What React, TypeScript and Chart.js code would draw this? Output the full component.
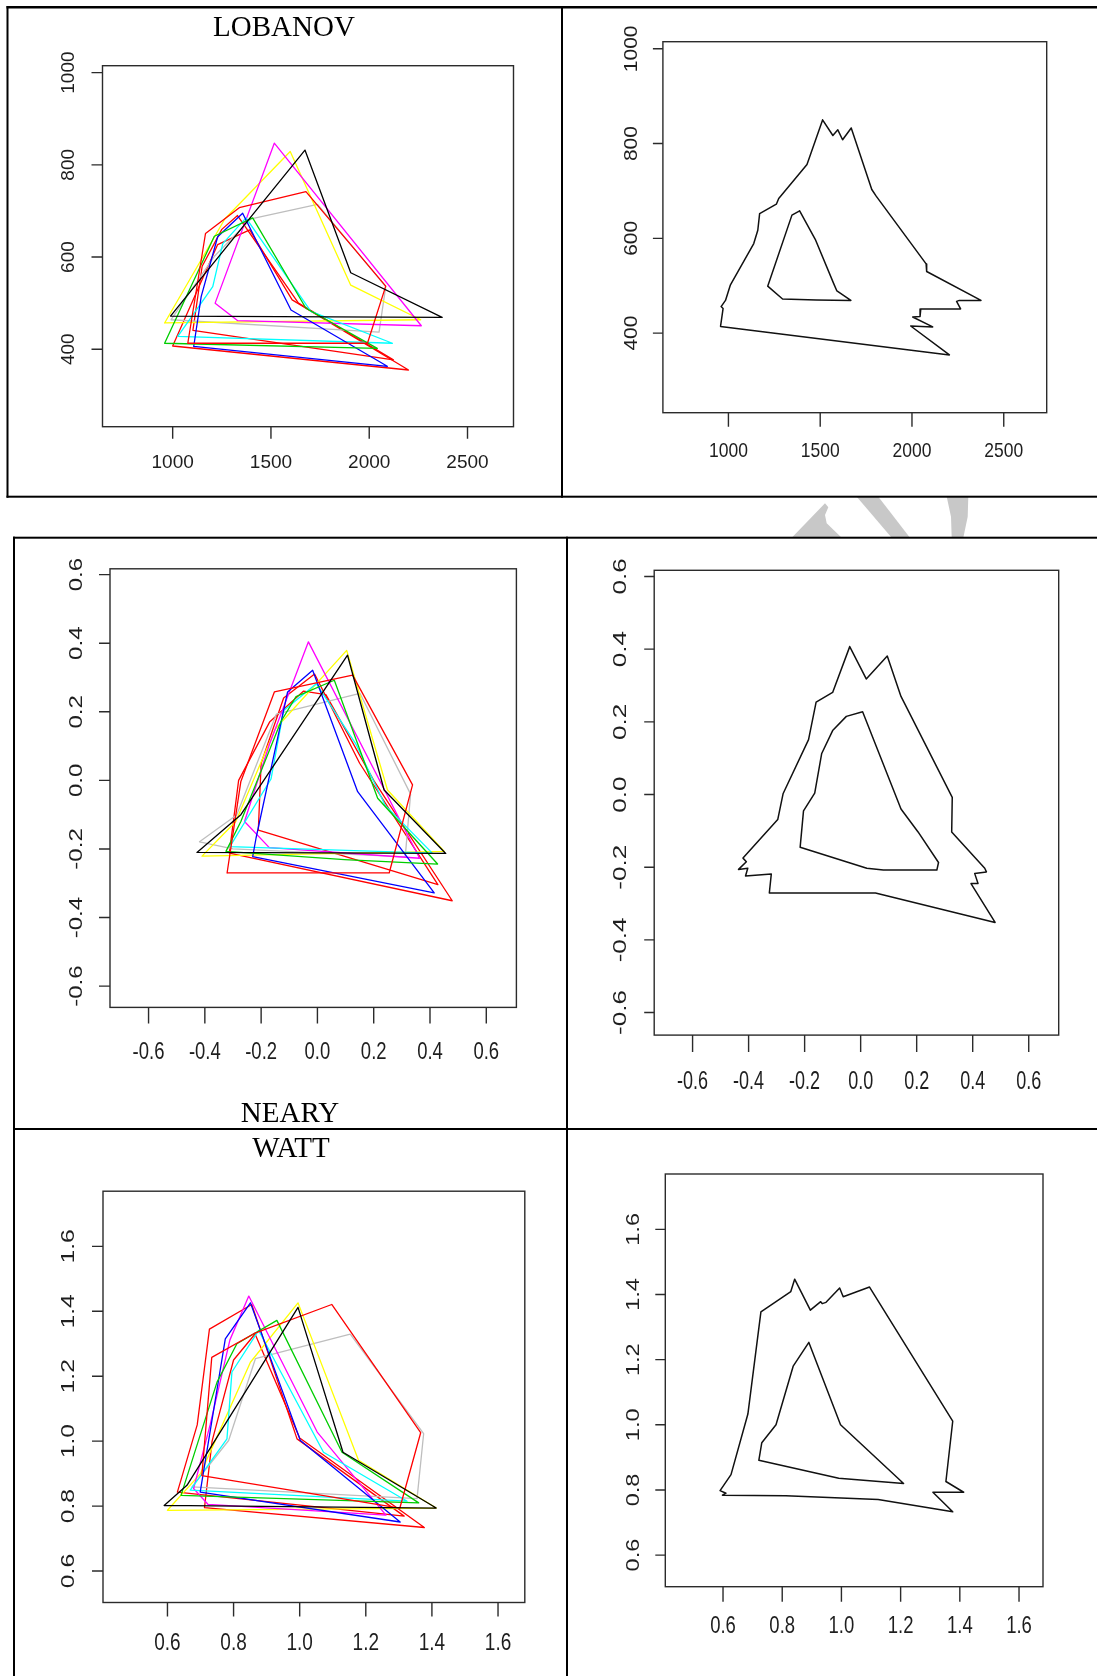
import React, { useEffect, useRef } from 'react';
import { Chart, registerables } from 'chart.js';
Chart.register(...registerables);

// ---------------- tick values / labels ----------------
const lobXTicks = [1000, 1500, 2000, 2500];
const lobXLabels = ['1000', '1500', '2000', '2500'];
const lobYTicks = [400, 600, 800, 1000];
const lobYLabels = ['400', '600', '800', '1000'];
const nearyTicks = [-0.6, -0.4, -0.2, 0, 0.2, 0.4, 0.6];
const nearyLabels = ['-0.6', '-0.4', '-0.2', '0.0', '0.2', '0.4', '0.6'];
const wattTicks = [0.6, 0.8, 1.0, 1.2, 1.4, 1.6];
const wattLabels = ['0.6', '0.8', '1.0', '1.2', '1.4', '1.6'];

// ---------------- LOBANOV speakers (x, y) ----------------
const lobBlack = [[989, 472], [1673, 832], [1906, 566], [2371, 469], [989, 472]];
const lobRed1 = [[1077, 413], [1167, 651], [1339, 707], [1678, 742], [2084, 537], [1991, 413], [1077, 413]];
const lobGreen = [[959, 413], [1212, 645], [1407, 685], [1678, 489], [2041, 402], [959, 413]];
const lobBlue = [[1107, 406], [1145, 514], [1229, 644], [1356, 695], [1602, 485], [2092, 363], [1107, 406]];
const lobCyan = [[1026, 428], [1204, 536], [1255, 629], [1373, 685], [1703, 482], [2118, 413], [1026, 428]];
const lobMagenta = [[1216, 500], [1517, 847], [2265, 451], [1331, 462], [1216, 500]];
const lobYellow = [[959, 457], [1266, 683], [1598, 829], [1906, 539], [2262, 464], [959, 457]];
const lobGray = [[992, 464], [1211, 601], [1399, 683], [1737, 714], [2084, 536], [2050, 437], [992, 464]];
const lobRed2 = [[1000, 407], [1229, 627], [1392, 659], [1608, 507], [2200, 355], [1000, 407]];
const lobRed3 = [[1103, 441], [1150, 580], [1250, 660], [1330, 690], [1640, 500], [2123, 377], [1103, 441]];

// LOBANOV hull (outer / inner)
const lobHullOuter = [[1513, 850], [1569, 817], [1596, 829], [1622, 808], [1669, 833], [1781, 703], [1805, 689], [2077, 546], [2080, 530], [2376, 469], [2258, 469], [2243, 467], [2265, 451], [2048, 451], [2044, 435], [2004, 434], [2113, 413], [1993, 415], [2204, 354], [957, 414], [971, 452], [960, 456], [984, 469], [1011, 502], [1138, 589], [1160, 617], [1170, 652], [1261, 672], [1274, 684], [1428, 756], [1513, 850]];
const lobHullInner = [[1388, 658], [1346, 649], [1214, 499], [1295, 472], [1479, 470], [1667, 469], [1591, 489], [1573, 505], [1473, 598], [1388, 658]];

// ---------------- NEARY speakers ----------------
const nearyBlack = [[-0.428, -0.21], [-0.272, -0.1], [0.107, 0.365], [0.237, -0.028], [0.456, -0.213], [-0.428, -0.21]];
const nearyRed1 = [[-0.321, -0.27], [-0.272, -0.003], [-0.153, 0.258], [0.125, 0.307], [0.338, -0.013], [0.255, -0.27], [-0.321, -0.27]];
const nearyGreen = [[-0.325, -0.207], [-0.272, -0.12], [-0.13, 0.171], [-0.076, 0.244], [0.06, 0.292], [0.214, -0.052], [0.427, -0.244], [0.096, -0.231], [-0.325, -0.207]];
const nearyBlue = [[-0.23, -0.222], [-0.218, -0.168], [-0.106, 0.258], [-0.017, 0.321], [0.143, -0.033], [0.415, -0.328], [-0.23, -0.222]];
const nearyCyan = [[-0.311, -0.193], [-0.165, 0.004], [-0.12, 0.204], [-0.004, 0.282], [0.138, 0.104], [0.241, -0.073], [0.408, -0.212], [-0.311, -0.193]];
const nearyMagenta = [[-0.171, -0.196], [-0.259, -0.12], [-0.171, 0.104], [-0.032, 0.404], [0.363, -0.227], [-0.171, -0.196]];
const nearyYellow = [[-0.41, -0.221], [-0.29, -0.12], [-0.15, 0.15], [0.104, 0.379], [0.249, -0.028], [0.451, -0.207], [-0.41, -0.221]];
const nearyGray = [[-0.419, -0.179], [-0.287, -0.101], [-0.146, 0.193], [0.151, 0.254], [0.331, -0.04], [0.312, -0.223], [-0.3, -0.2], [-0.419, -0.179]];
const nearyRed2 = [[-0.21, -0.145], [-0.2, 0.05], [-0.12, 0.24], [-0.01, 0.31], [0.15, 0.05], [0.428, -0.304], [-0.21, -0.145]];
const nearyRed3 = [[-0.313, -0.212], [-0.28, 0.0], [-0.17, 0.17], [-0.05, 0.26], [0.03, 0.25], [0.2, 0.0], [0.479, -0.351], [-0.313, -0.212]];

const nearyHullOuter = [[-0.039, 0.407], [0.02, 0.318], [0.095, 0.381], [0.144, 0.27], [0.327, -0.008], [0.325, -0.103], [0.443, -0.203], [0.449, -0.213], [0.407, -0.217], [0.419, -0.245], [0.394, -0.245], [0.48, -0.352], [0.053, -0.271], [-0.326, -0.271], [-0.319, -0.219], [-0.411, -0.224], [-0.403, -0.203], [-0.436, -0.206], [-0.408, -0.185], [-0.42, -0.175], [-0.296, -0.069], [-0.277, 0.002], [-0.186, 0.151], [-0.159, 0.254], [-0.1, 0.281], [-0.039, 0.407]];
const nearyHullInner = [[0.007, 0.228], [-0.051, 0.215], [-0.1, 0.176], [-0.139, 0.113], [-0.164, 0.004], [-0.204, -0.045], [-0.216, -0.145], [0.022, -0.203], [0.081, -0.208], [0.272, -0.208], [0.278, -0.187], [0.205, -0.103], [0.144, -0.04], [0.007, 0.228]];

// ---------------- WATT speakers ----------------
const wattBlack = [[0.59, 0.802], [0.659, 0.864], [0.995, 1.412], [1.131, 0.966], [1.413, 0.794], [0.59, 0.802]];
const wattRed1 = [[0.704, 0.894], [0.734, 1.258], [0.861, 1.331], [1.097, 1.421], [1.366, 1.026], [1.303, 0.794], [0.704, 0.894]];
const wattGreen = [[0.641, 0.833], [0.75, 1.182], [0.81, 1.3], [0.931, 1.372], [1.128, 0.966], [1.36, 0.81], [0.641, 0.833]];
const wattBlue = [[0.699, 0.843], [0.775, 1.315], [0.851, 1.426], [1.002, 1.002], [1.304, 0.751], [0.699, 0.843]];
const wattCyan = [[0.669, 0.849], [0.78, 1.007], [0.795, 1.213], [0.876, 1.341], [1.072, 0.966], [1.325, 0.815], [0.669, 0.849]];
const wattMagenta = [[0.723, 0.805], [0.679, 0.854], [0.729, 1.05], [0.789, 1.312], [0.846, 1.447], [1.053, 1.028], [1.261, 0.772], [0.723, 0.805]];
const wattYellow = [[0.6, 0.787], [0.7, 0.9], [0.851, 1.243], [0.995, 1.426], [1.178, 0.941], [1.413, 0.794], [0.6, 0.787]];
const wattGray = [[0.674, 0.859], [0.785, 1.002], [0.866, 1.254], [1.153, 1.33], [1.375, 1.023], [1.355, 0.823], [0.674, 0.859]];
const wattRed2 = [[0.63, 0.843], [0.69, 1.05], [0.727, 1.345], [0.855, 1.421], [0.992, 1.007], [1.316, 0.769], [0.63, 0.843]];
const wattRed3 = [[0.712, 0.795], [0.735, 1.0], [0.8, 1.25], [0.865, 1.33], [1.0, 1.01], [1.377, 0.734], [0.712, 0.795]];

const wattHullOuter = [[0.842, 1.447], [0.829, 1.409], [0.728, 1.347], [0.684, 1.033], [0.627, 0.847], [0.59, 0.798], [0.61, 0.79], [0.598, 0.784], [0.812, 0.782], [1.124, 0.771], [1.376, 0.733], [1.309, 0.793], [1.413, 0.793], [1.353, 0.826], [1.376, 1.011], [1.095, 1.423], [1.006, 1.393], [0.994, 1.42], [0.948, 1.376], [0.935, 1.372], [0.93, 1.378], [0.895, 1.352], [0.842, 1.447]];
const wattHullInner = [[0.89, 1.253], [0.837, 1.18], [0.779, 1.0], [0.731, 0.945], [0.721, 0.891], [0.991, 0.836], [1.21, 0.82], [0.997, 1.0], [0.89, 1.253]];

// ---------------- colours ----------------
const C = {
  black: '#000000', red: '#FF0000', green: '#00CD00', blue: '#0000FF',
  cyan: '#00FFFF', magenta: '#FF00FF', yellow: '#FFFF00', gray: '#BEBEBE',
};

type Pt = number[];
type Series = { pts: Pt[]; color: string; width?: number };
type Spec = {
  id: string;
  cell: { x: number; y: number; w: number; h: number };
  box: { l: number; r: number; t: number; b: number };
  xr: [number, number]; yr: [number, number];
  xTicks: number[]; xLabels: string[]; yTicks: number[]; yLabels: string[];
  font: number; k: number; xTickLen: number; yTickLen: number; xLabelOff: number; yLabelOff: number;
  title?: { text: string; cx: number; base: number };
  series: Series[];
};

const speakers = (s: Pt[][]): Series[] => {
  const cols = [C.black, C.red, C.green, C.blue, C.cyan, C.magenta, C.yellow, C.gray, C.red, C.red];
  return s.map((pts, i) => ({ pts, color: cols[i], width: 1.3 }));
};
const hull = (o: Pt[], i: Pt[]): Series[] => [
  { pts: o, color: '#111111', width: 1.5 },
  { pts: i, color: '#111111', width: 1.5 },
];

const specs: Spec[] = [
  {
    id: 'tl', cell: { x: 9, y: 9, w: 552, h: 486 }, box: { l: 102.5, r: 513.5, t: 65.7, b: 426.7 },
    xr: [643, 2734], yr: [232, 1015], xTicks: lobXTicks, xLabels: lobXLabels, yTicks: lobYTicks, yLabels: lobYLabels,
    font: 19, k: 1.0, xTickLen: 12, yTickLen: 11, xLabelOff: 36, yLabelOff: 34.2,
    title: { text: 'LOBANOV', cx: 284, base: 36 },
    series: speakers([lobBlack, lobRed1, lobGreen, lobBlue, lobCyan, lobMagenta, lobYellow, lobGray, lobRed2, lobRed3]),
  },
  {
    id: 'tr', cell: { x: 563, y: 9, w: 534, h: 486 }, box: { l: 662.9, r: 1046.7, t: 41.7, b: 412.7 },
    xr: [643, 2734], yr: [232, 1015], xTicks: lobXTicks, xLabels: lobXLabels, yTicks: lobYTicks, yLabels: lobYLabels,
    font: 17.5, k: 1.2, xTickLen: 14, yTickLen: 10, xLabelOff: 38.5, yLabelOff: 31,
    series: hull(lobHullOuter, lobHullInner),
  },
  {
    id: 'ml', cell: { x: 15, y: 539, w: 551, h: 589 }, box: { l: 110, r: 516.4, t: 568.8, b: 1007.4 },
    xr: [-0.737, 0.707], yr: [-0.662, 0.617], xTicks: nearyTicks, xLabels: nearyLabels, yTicks: nearyTicks, yLabels: nearyLabels,
    font: 18.5, k: 1.3, xTickLen: 16, yTickLen: 11, xLabelOff: 45, yLabelOff: 33,
    title: { text: 'NEARY', cx: 290, base: 1121.5 },
    series: speakers([nearyBlack, nearyRed1, nearyGreen, nearyBlue, nearyCyan, nearyMagenta, nearyYellow, nearyGray, nearyRed2, nearyRed3]),
  },
  {
    id: 'mr', cell: { x: 568, y: 539, w: 529, h: 589 }, box: { l: 654.2, r: 1058.7, t: 570.3, b: 1035.1 },
    xr: [-0.737, 0.707], yr: [-0.662, 0.617], xTicks: nearyTicks, xLabels: nearyLabels, yTicks: nearyTicks, yLabels: nearyLabels,
    font: 18, k: 1.45, xTickLen: 17, yTickLen: 10, xLabelOff: 47, yLabelOff: 33,
    series: hull(nearyHullOuter, nearyHullInner),
  },
  {
    id: 'bl', cell: { x: 15, y: 1130, w: 551, h: 546 }, box: { l: 103, r: 524.8, t: 1191.2, b: 1602.5 },
    xr: [0.405, 1.681], yr: [0.503, 1.77], xTicks: wattTicks, xLabels: wattLabels, yTicks: wattTicks, yLabels: wattLabels,
    font: 19, k: 1.3, xTickLen: 14, yTickLen: 11, xLabelOff: 40.5, yLabelOff: 34.6,
    title: { text: 'WATT', cx: 291, base: 1156.5 },
    series: speakers([wattBlack, wattRed1, wattGreen, wattBlue, wattCyan, wattMagenta, wattYellow, wattGray, wattRed2, wattRed3]),
  },
  {
    id: 'br', cell: { x: 568, y: 1130, w: 529, h: 546 }, box: { l: 665.3, r: 1043, t: 1174, b: 1586.7 },
    xr: [0.405, 1.681], yr: [0.503, 1.77], xTicks: wattTicks, xLabels: wattLabels, yTicks: wattTicks, yLabels: wattLabels,
    font: 18.5, k: 1.27, xTickLen: 15, yTickLen: 10, xLabelOff: 40.3, yLabelOff: 31.5,
    series: hull(wattHullOuter, wattHullInner),
  },
];

function drawRAxes(chart: any, spec: Spec) {
  const { ctx, chartArea: a, scales } = chart;
  const xs = scales.x, ys = scales.y;
  ctx.save();
  ctx.strokeStyle = '#2b2b2b';
  ctx.lineWidth = 1.4;
  ctx.strokeRect(a.left, a.top, a.right - a.left, a.bottom - a.top);
  ctx.beginPath();
  spec.xTicks.forEach((v) => {
    const px = xs.getPixelForValue(v);
    ctx.moveTo(px, a.bottom);
    ctx.lineTo(px, a.bottom + spec.xTickLen);
  });
  spec.yTicks.forEach((v) => {
    const py = ys.getPixelForValue(v);
    ctx.moveTo(a.left, py);
    ctx.lineTo(a.left - spec.yTickLen, py);
  });
  ctx.stroke();

  ctx.fillStyle = '#1e1e1e';
  ctx.font = `${spec.font}px "Liberation Sans", Arial, sans-serif`;
  ctx.textAlign = 'center';
  ctx.textBaseline = 'middle';
  spec.xTicks.forEach((v, i) => {
    const px = xs.getPixelForValue(v);
    ctx.save();
    ctx.translate(px, a.bottom + spec.xLabelOff);
    ctx.scale(1, spec.k);
    ctx.fillText(spec.xLabels[i], 0, 0);
    ctx.restore();
  });
  spec.yTicks.forEach((v, i) => {
    const py = ys.getPixelForValue(v);
    ctx.save();
    ctx.translate(a.left - spec.yLabelOff, py);
    ctx.scale(1, spec.k);
    ctx.rotate(-Math.PI / 2);
    ctx.fillText(spec.yLabels[i], 0, 0);
    ctx.restore();
  });

  if (spec.title) {
    ctx.fillStyle = '#000';
    ctx.font = '29px "Liberation Serif", "Times New Roman", serif';
    ctx.textAlign = 'center';
    ctx.textBaseline = 'alphabetic';
    ctx.fillText(spec.title.text, spec.title.cx - spec.cell.x, spec.title.base - spec.cell.y);
  }
  ctx.restore();
}

function Panel({ spec }: { spec: Spec }) {
  const ref = useRef<HTMLCanvasElement>(null);
  useEffect(() => {
    const canvas = ref.current;
    if (!canvas) return;
    const { cell, box } = spec;
    const chart = new Chart(canvas, {
      type: 'scatter',
      data: {
        datasets: spec.series.map((s) => ({
          data: s.pts.map(([x, y]) => ({ x, y })),
          borderColor: s.color,
          backgroundColor: s.color,
          borderWidth: s.width ?? 1.3,
          showLine: true,
          pointRadius: 0,
          pointHoverRadius: 0,
          fill: false,
          tension: 0,
          borderJoinStyle: 'round',
          borderCapStyle: 'round',
        })),
      },
      options: {
        animation: false,
        responsive: false,
        maintainAspectRatio: false,
        devicePixelRatio: 1,
        events: [],
        layout: {
          padding: {
            left: box.l - cell.x,
            right: cell.x + cell.w - box.r,
            top: box.t - cell.y,
            bottom: cell.y + cell.h - box.b,
          },
        },
        scales: {
          x: { type: 'linear', min: spec.xr[0], max: spec.xr[1], display: false },
          y: { type: 'linear', min: spec.yr[0], max: spec.yr[1], display: false },
        },
        plugins: { legend: { display: false }, tooltip: { enabled: false } },
      } as any,
      plugins: [{ id: 'rAxes_' + spec.id, afterDraw: (c: any) => drawRAxes(c, spec) }],
    });
    return () => chart.destroy();
  }, [spec]);
  return (
    <canvas
      ref={ref}
      width={spec.cell.w}
      height={spec.cell.h}
      style={{ position: 'absolute', left: spec.cell.x, top: spec.cell.y, width: spec.cell.w, height: spec.cell.h }}
    />
  );
}

export default function App() {
  useEffect(() => {
    document.body.style.margin = '0';
    document.body.style.overflow = 'hidden';
  }, []);
  return (
    <div style={{ position: 'absolute', left: 0, top: 0, width: 1097, height: 1676, background: '#fff', overflow: 'hidden' }}>
      <svg width={1097} height={1676} style={{ position: 'absolute', left: 0, top: 0 }}>
        {/* watermark fragments visible between the two tables */}
        <polygon points="791.7,537.7 825,503.3 828.3,507.3 825,515 826.7,523.3 841.7,537.7" fill="#c8c8c8" />
        <polygon points="856.7,496.7 878.3,496.7 910,537.7 891.7,537.7" fill="#c8c8c8" />
        <polygon points="946.7,496.7 968.3,496.7 967.7,516.7 963.3,537.7 951.7,537.7 951,516.7" fill="#c8c8c8" />
        {/* top table */}
        <rect x={6.5} y={6} width={1091} height={2.5} fill="#000" />
        <rect x={6.5} y={6} width={2} height={491.7} fill="#000" />
        <rect x={561} y={6} width={2} height={491.7} fill="#000" />
        <rect x={6.5} y={495.7} width={1091} height={2} fill="#000" />
        {/* lower table */}
        <rect x={13} y={536.7} width={1084} height={2} fill="#000" />
        <rect x={13} y={536.7} width={2} height={1140} fill="#000" />
        <rect x={566} y={536.7} width={2} height={1140} fill="#000" />
        <rect x={13} y={1128} width={1084} height={2} fill="#000" />
      </svg>
      {specs.map((s) => (
        <Panel key={s.id} spec={s} />
      ))}
    </div>
  );
}
